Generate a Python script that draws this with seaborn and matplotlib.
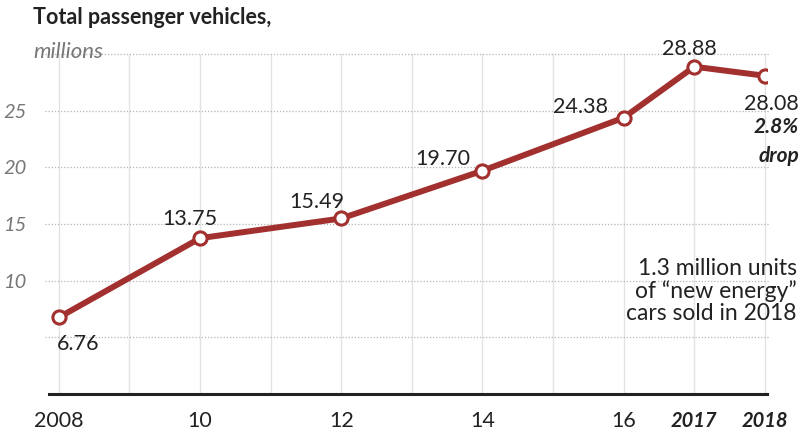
import matplotlib
matplotlib.use("Agg")
import matplotlib.pyplot as plt
import seaborn as sns
import pandas as pd

years = [2008, 2010, 2012, 2014, 2016, 2017, 2018]
values = [6.76, 13.75, 15.49, 19.70, 24.38, 28.88, 28.08]
value_labels = ["6.76", "13.75", "15.49", "19.70", "24.38", "28.88", "28.08"]
tick_years = list(range(2008, 2019))
tick_labels = ["2008", "", "10", "", "12", "", "14", "", "16", "2017", "2018"]
y_ticks = [10, 15, 20, 25]

sns.set_style("white")
plt.rcParams['font.family'] = ['Lato', 'DejaVu Sans']

RED = "#a2302e"
TXT = "#222222"
GRAY = "#777777"

fig = plt.figure(figsize=(8.01, 4.34), dpi=100)
ax = fig.add_axes([49/801, 1-394/434, (767-49)/801, (394-54)/434])

df = pd.DataFrame({"year": years, "value": values})
sns.lineplot(data=df, x="year", y="value", ax=ax, color=RED, linewidth=4.3,
             marker="o", markersize=9.5, markerfacecolor="white",
             markeredgecolor=RED, markeredgewidth=2.2, zorder=5)

ax.set_xlim(2007.86, 2018.03)
ax.set_ylim(0, 30)

for s in ["top", "right", "left"]:
    ax.spines[s].set_visible(False)
ax.spines["bottom"].set_color("#222222")
ax.spines["bottom"].set_linewidth(2.2)
ax.spines["bottom"].set_zorder(6)

# vertical grid
for yr in tick_years:
    ax.axvline(yr, color="#e3e3e3", linewidth=1.0, zorder=0)
# horizontal dotted grid
for yv in [5, 10, 15, 20, 25, 30]:
    ax.plot([-0.006, 1.004], [yv, yv], transform=ax.get_yaxis_transform(),
            color="#b5b5b5", linestyle=(0, (1, 1.5)), linewidth=0.9,
            zorder=1, clip_on=False)

ax.set_xticks(tick_years)
ax.set_xticklabels(tick_labels, fontsize=15.5, color=TXT)
for lbl, t in zip(ax.get_xticklabels(), tick_labels):
    if t in ("2017", "2018"):
        lbl.set_fontweight("bold")
        lbl.set_fontstyle("italic")
        lbl.set_fontsize(14.5)
ax.tick_params(axis="x", length=8, width=1, color="#dddddd", pad=4)

ax.set_yticks(y_ticks)
ax.set_yticklabels([str(v) for v in y_ticks], fontsize=14.5, color=GRAY,
                   fontstyle="italic")
ax.tick_params(axis="y", length=0, pad=16)
ax.set_xlabel("")
ax.set_ylabel("")

# title and unit
fig.text(33/801, 1-18/434, "Total passenger vehicles,", fontsize=15.5,
         fontweight="bold", color=TXT, ha="left", va="center")
fig.text(33/801, 1-52/434, "millions", fontsize=16, fontstyle="italic",
         color=GRAY, ha="left", va="center")

# value labels (offsets in points)
offsets = [(13.7, -19, "center"), (-7.2, 13.7, "center"), (-17.3, 12.2, "center"),
           (-28.8, 8.6, "center"), (-31, 7.9, "center"), (-3.6, 12.5, "center"),
           (24.5, -20, "right")]
for x, y, lab, (dx, dy, ha) in zip(years, values, value_labels, offsets):
    ax.annotate(lab, (x, y), xytext=(dx, dy), textcoords="offset points",
                ha=ha, va="center", fontsize=15.5, color=TXT, zorder=7,
                annotation_clip=False)

ax.annotate("2.8%", (years[-1], values[-1]), xytext=(24.5, -37),
            textcoords="offset points", ha="right", va="center", fontsize=15,
            fontweight="bold", fontstyle="italic", color=TXT,
            annotation_clip=False)
ax.annotate("drop", (years[-1], values[-1]), xytext=(24.5, -57.5),
            textcoords="offset points", ha="right", va="center", fontsize=15,
            fontweight="bold", fontstyle="italic", color=TXT,
            annotation_clip=False)

fig.text(797/801, 1-291/434,
         "1.3 million units\nof \u201cnew energy\u201d\ncars sold in 2018",
         fontsize=16.5, color=TXT, ha="right", va="center", linespacing=1.05)

fig.savefig("out.png", dpi=100)
